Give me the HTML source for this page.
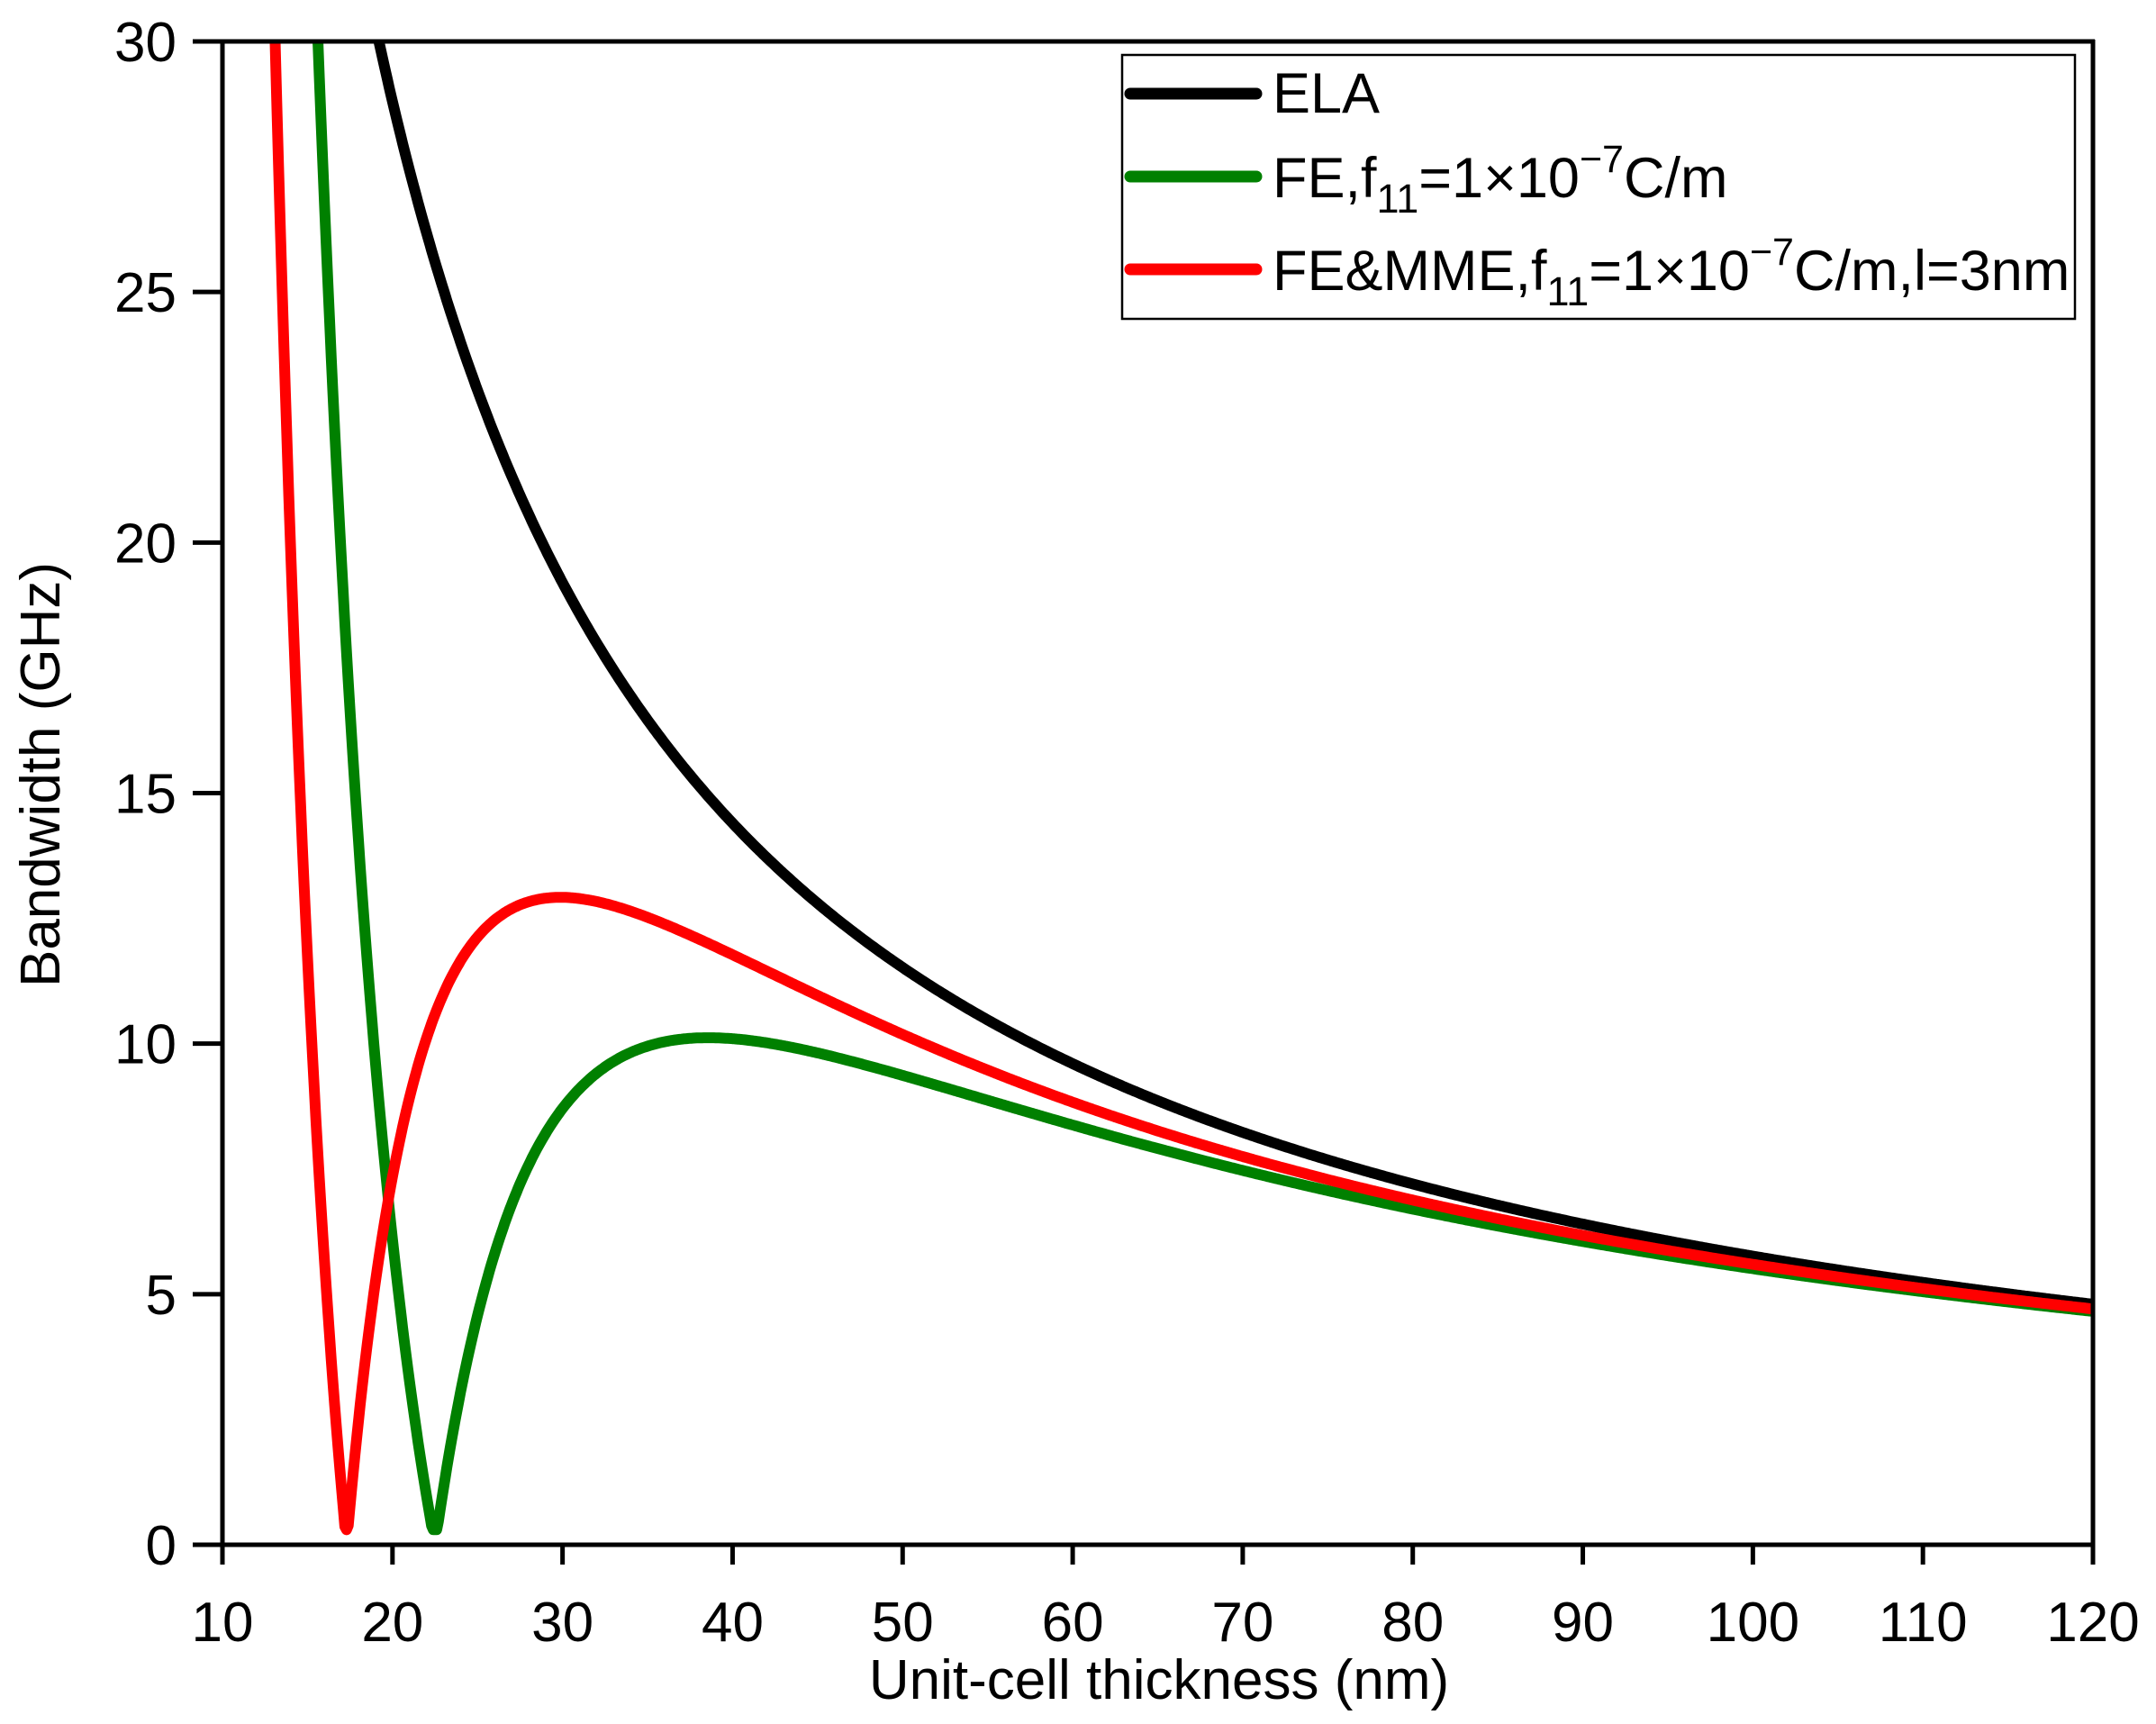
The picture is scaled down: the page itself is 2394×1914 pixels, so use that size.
<!DOCTYPE html>
<html><head><meta charset="utf-8"><style>
html,body{margin:0;padding:0;background:#fff;}
svg{display:block;}
text{font-family:"Liberation Sans",Arial,sans-serif;fill:#000;}
</style></head><body>
<svg id="s" width="2394" height="1914" viewBox="0 0 2394 1914" xmlns="http://www.w3.org/2000/svg">
<defs><clipPath id="c"><rect x="247" y="46" width="2077" height="1680"/></clipPath></defs>
<g clip-path="url(#c)" fill="none" stroke-width="12" stroke-linejoin="round" stroke-linecap="round">
<path id="pk" stroke="#000"/>
<path id="pg" stroke="#008000"/>
<path id="pr" stroke="#ff0000"/>
</g>
<g stroke="#000" stroke-width="5" fill="none">
<line x1="247" y1="44" x2="247" y2="1737"/>
<line x1="214" y1="1715" x2="2326" y2="1715"/>
<line x1="214" y1="46" x2="2326" y2="46"/>
<line x1="2324" y1="44" x2="2324" y2="1717"/>
</g>
<g id="ticks" stroke="#000" stroke-width="5"></g>
<g id="lbl" font-size="62"></g>
<text x="1287" y="1886" font-size="62" text-anchor="middle">Unit-cell thickness (nm)</text>
<text transform="translate(66,860) rotate(-90)" font-size="62" text-anchor="middle">Bandwidth (GHz)</text>
<rect x="1246" y="61" width="1058" height="293" fill="#fff" stroke="#000" stroke-width="2.5"/>
<g stroke-width="13" stroke-linecap="round">
<line x1="1255" y1="104" x2="1395" y2="104" stroke="#000"/>
<line x1="1255" y1="196" x2="1395" y2="196" stroke="#008000"/>
<line x1="1255" y1="299" x2="1395" y2="299" stroke="#ff0000"/>
</g>
<g font-size="63">
<text x="1413" y="125">ELA</text>
<text x="1413" y="219">FE,f<tspan font-size="45" dy="17">11</tspan><tspan dy="-17">=1×10</tspan><tspan font-size="43" dy="-28">−7</tspan><tspan dy="28">C/m</tspan></text>
<text x="1413" y="322">FE&amp;MME,f<tspan font-size="45" dy="17">11</tspan><tspan dy="-17">=1×10</tspan><tspan font-size="43" dy="-28">−7</tspan><tspan dy="28">C/m,l=3nm</tspan></text>
</g>
</svg>
<script>
var X=function(d){return 247+(d-10)*2077/110;};
var Y=function(b){return 1715-b*1669/30;};
function ela(d){return 576/d;}
function mk(d0,nlo,nhi){return function(d){var r=d0/d;return d<d0?ela(d)*(Math.pow(r,nlo)-1):ela(d)*(1-Math.pow(r,nhi));};}
function path(f,a,b,extra){var s="";var pts=[];for(var d=a;d<=b+1e-9;d+=0.1){pts.push(d);}if(extra)pts=pts.concat(extra).sort(function(p,q){return p-q;});
pts.forEach(function(d,i){var v=Math.min(f(d),32);s+=(i?"L":"M")+X(d).toFixed(1)+","+Y(Math.max(v,0.3)).toFixed(1);});return s;}
document.getElementById("pk").setAttribute("d",path(ela,18.5,120));
document.getElementById("pg").setAttribute("d",path(mk(22.5,1.63,2.1),14.8,120,[22.5]));
document.getElementById("pr").setAttribute("d",path(mk(17.3,1.87,2.03),12.5,120,[17.3]));
var t=document.getElementById("ticks"),l=document.getElementById("lbl"),ns="http://www.w3.org/2000/svg";
function el(n,a,p){var e=document.createElementNS(ns,n);for(var k in a)e.setAttribute(k,a[k]);p.appendChild(e);return e;}
for(var v=10;v<=120;v+=10){el("line",{x1:X(v),y1:1715,x2:X(v),y2:1737},t);var e=el("text",{x:X(v),y:1822,"text-anchor":"middle"},l);e.textContent=v;}
for(var b=0;b<=30;b+=5){el("line",{x1:214,y1:Y(b),x2:247,y2:Y(b)},t);var e=el("text",{x:196,y:Y(b)+22,"text-anchor":"end"},l);e.textContent=b;}
</script>
</body></html>
